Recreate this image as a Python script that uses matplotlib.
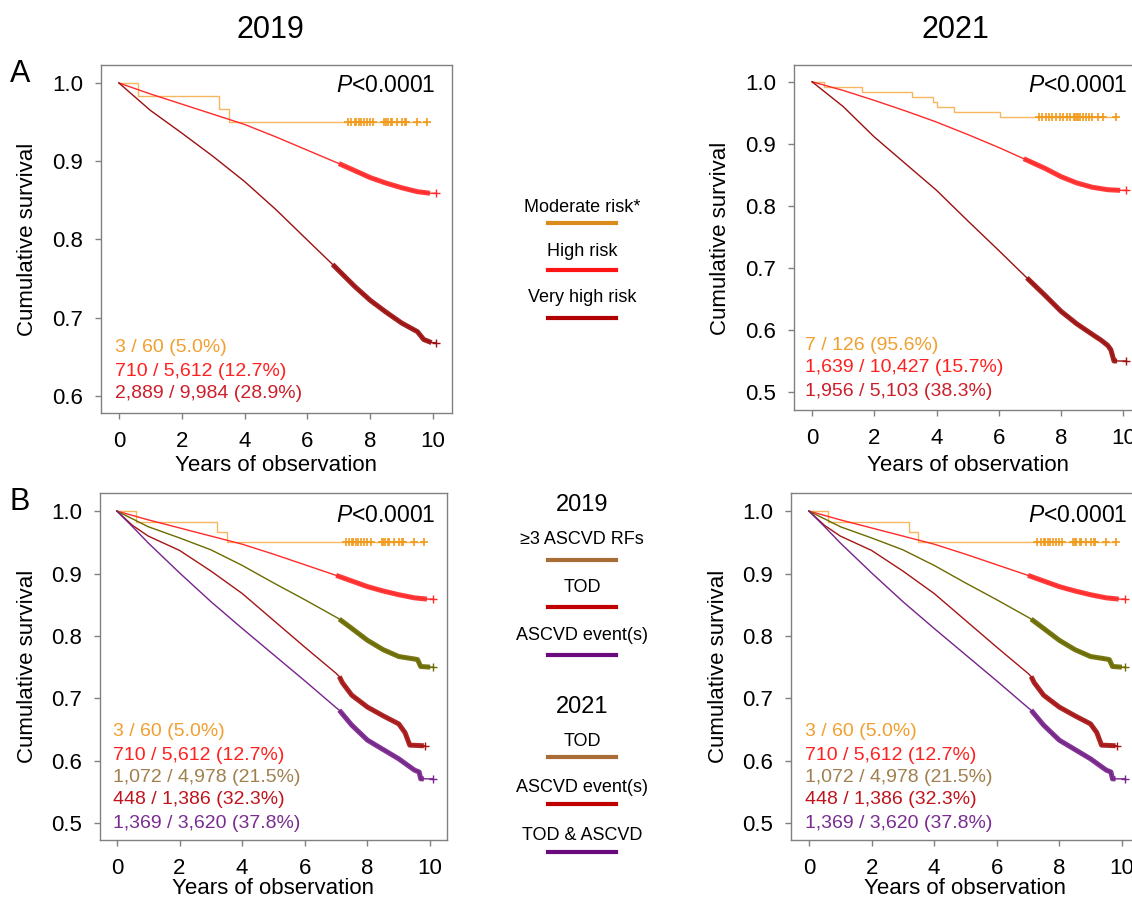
import matplotlib.pyplot as plt
from matplotlib.lines import Line2D

plt.rcParams['font.family'] = ['Liberation Sans', 'DejaVu Sans']
plt.rcParams['mathtext.fontset'] = 'custom'
plt.rcParams['mathtext.rm'] = 'Liberation Sans'
plt.rcParams['mathtext.it'] = 'Liberation Sans:italic'

W, H = 1132, 900

# ---- data ----
# 2019 risk groups (panel A left, reused for the moderate / high curves in B)
mod19_t = [0, 0.6, 3.2, 3.5, 9.8]
mod19_s = [1.0, 0.983, 0.967, 0.95, 0.95]
mod19_cens = [7.3, 7.4, 7.5, 7.55, 7.65, 7.7, 7.8, 7.9, 8.0, 8.1, 8.45, 8.5,
              8.55, 8.65, 8.7, 8.85, 9.0, 9.1, 9.15, 9.5, 9.8]

high19_t = [0, 1, 2, 3, 4, 5, 6, 7, 7.5, 8, 8.5, 9, 9.5, 9.9, 10.1]
high19_s = [1.0, 0.986, 0.973, 0.96, 0.947, 0.931, 0.914, 0.897, 0.888,
            0.879, 0.872, 0.866, 0.861, 0.859, 0.859]

vhigh19_t = [0, 1, 2, 3, 4, 5, 6, 6.8, 7.5, 8, 8.5, 9, 9.5, 9.7, 9.95, 10.1]
vhigh19_s = [1.0, 0.965, 0.936, 0.906, 0.874, 0.838, 0.799, 0.768, 0.740,
             0.722, 0.707, 0.693, 0.682, 0.672, 0.668, 0.668]

# 2021 risk groups (panel A right)
mod21_t = [0, 0.38, 1.6, 3.2, 3.9, 4.0, 4.55, 6.05, 9.8]
mod21_s = [1.0, 0.992, 0.984, 0.976, 0.968, 0.960, 0.952, 0.944, 0.944]
mod21_cens = [7.3, 7.4, 7.5, 7.6, 7.7, 7.85, 7.95, 8.05, 8.2, 8.3, 8.4, 8.45,
              8.5, 8.55, 8.6, 8.7, 8.8, 8.9, 9.0, 9.2, 9.35, 9.75]

high21_t = [0, 1, 2, 3, 4, 5, 6, 6.8, 7.5, 8, 8.5, 9, 9.5, 9.9, 10.1]
high21_s = [1.0, 0.986, 0.970, 0.953, 0.935, 0.915, 0.894, 0.876, 0.86,
            0.847, 0.837, 0.830, 0.826, 0.825, 0.825]

vhigh21_t = [0, 1, 2, 3, 4, 5, 6, 6.9, 7.5, 8, 8.5, 9, 9.3, 9.5, 9.6, 9.7, 9.8, 10.1]
vhigh21_s = [1.0, 0.960, 0.911, 0.868, 0.825, 0.776, 0.728, 0.684, 0.655,
             0.630, 0.610, 0.593, 0.583, 0.575, 0.568, 0.55, 0.55, 0.55]

# panel B subgroups
rf_t = [0, 1, 2, 3, 4, 5, 6, 7, 7.1, 7.5, 8, 8.5, 9, 9.5, 9.6, 9.7, 10.0, 10.1]
rf_s = [1.0, 0.975, 0.957, 0.938, 0.913, 0.885, 0.858, 0.83, 0.827, 0.812,
        0.793, 0.778, 0.767, 0.763, 0.762, 0.751, 0.75, 0.75]

tod_t = [0, 0.5, 1, 2, 3, 4, 5, 6, 7, 7.1, 7.2, 7.5, 8, 8.5, 9, 9.2, 9.35, 9.8, 9.85]
tod_s = [1.0, 0.977, 0.96, 0.937, 0.904, 0.868, 0.825, 0.782, 0.74, 0.735,
         0.725, 0.705, 0.686, 0.672, 0.659, 0.645, 0.625, 0.624, 0.624]

asc_t = [0, 0.5, 1, 2, 3, 4, 5, 6, 7, 7.1, 7.5, 8, 8.5, 9, 9.5, 9.65, 9.7, 9.8, 10.1]
asc_s = [1.0, 0.975, 0.949, 0.901, 0.855, 0.812, 0.77, 0.728, 0.685, 0.681,
         0.657, 0.633, 0.618, 0.603, 0.585, 0.582, 0.571, 0.571, 0.571]

labels_A19 = ["3 / 60 (5.0%)", "710 / 5,612 (12.7%)", "2,889 / 9,984 (28.9%)"]
labels_A21 = ["7 / 126 (95.6%)", "1,639 / 10,427 (15.7%)", "1,956 / 5,103 (38.3%)"]
labels_B = ["3 / 60 (5.0%)", "710 / 5,612 (12.7%)", "1,072 / 4,978 (21.5%)",
            "448 / 1,386 (32.3%)", "1,369 / 3,620 (37.8%)"]

legend_A = ["Moderate risk*", "High risk", "Very high risk"]
legend_B19 = ["\u22653 ASCVD RFs", "TOD", "ASCVD event(s)"]
legend_B21 = ["TOD", "ASCVD event(s)", "TOD & ASCVD"]

# colours
c_mod, c_mod_mark, c_mod_txt = '#f7b660', '#f29a1c', '#f0a030'
c_high, c_high_txt = '#ff2a2a', '#ff2020'
c_vhigh, c_vhigh_txt = '#9c1010', '#cc1f2a'
c_rf, c_rf_txt = '#6b6b00', '#a0804e'
c_tod, c_tod_txt = '#a51515', '#c0141c'
c_asc, c_asc_txt = '#76238a', '#7b2c90'


def fx(x):
    return x / W


def fy(y):
    return 1 - y / H


def make_axes(fig, left, top, right, bottom, xlim, ylim, yticks):
    ax = fig.add_axes([fx(left), fy(bottom), (right - left) / W, (bottom - top) / H])
    ax.set_xlim(*xlim)
    ax.set_ylim(*ylim)
    ax.set_xticks([0, 2, 4, 6, 8, 10])
    ax.set_yticks(yticks)
    ax.set_yticklabels([f"{v:.1f}" for v in yticks])
    for sp in ax.spines.values():
        sp.set_color('#808080')
        sp.set_linewidth(1.0)
    ax.tick_params(direction='out', length=4, width=1, color='#808080',
                   labelsize=16, pad=9)
    return ax


def km(ax, t, s, color, tail, lw_tail=3.6):
    # thin curve, dense censoring shown as a thick band, final '+' mark
    ax.plot(t, s, color=color, lw=1.0)
    ax.plot(t[tail:-1], s[tail:-1], color=color, lw=lw_tail,
            solid_capstyle='butt', alpha=0.92)
    ax.plot(t[-1], s[-1], marker='+', color=color, ms=6, mew=1)


def km_mod(ax, t, s, cens):
    ax.step(t, s, where='post', color=c_mod, lw=1.0)
    ax.plot(cens, [s[-1]] * len(cens), ls='none', marker='+', color=c_mod_mark,
            ms=6, mew=1.2)


fig = plt.figure(figsize=(W / 100, H / 100), dpi=100)

# ---- panel A, 2019 ----
axA1 = make_axes(fig, 101, 65, 452, 413, (-0.57, 10.6), (0.578, 1.023),
                 [0.6, 0.7, 0.8, 0.9, 1.0])
km_mod(axA1, mod19_t, mod19_s, mod19_cens)
km(axA1, high19_t, high19_s, c_high, 7)
km(axA1, vhigh19_t, vhigh19_s, c_vhigh, 7)

# ---- panel A, 2021 ----
axA2 = make_axes(fig, 794, 65, 1142, 410, (-0.58, 10.6), (0.471, 1.027),
                 [0.5, 0.6, 0.7, 0.8, 0.9, 1.0])
km_mod(axA2, mod21_t, mod21_s, mod21_cens)
km(axA2, high21_t, high21_s, c_high, 7)
km(axA2, vhigh21_t, vhigh21_s, c_vhigh, 7)

# ---- panel B, both years ----
axB1 = make_axes(fig, 100, 493, 447, 840, (-0.54, 10.54), (0.473, 1.029),
                 [0.5, 0.6, 0.7, 0.8, 0.9, 1.0])
axB2 = make_axes(fig, 791, 493, 1140, 840, (-0.575, 10.58), (0.473, 1.029),
                 [0.5, 0.6, 0.7, 0.8, 0.9, 1.0])
for ax in (axB1, axB2):
    km_mod(ax, mod19_t, mod19_s, mod19_cens)
    km(ax, high19_t, high19_s, c_high, 7)
    km(ax, rf_t, rf_s, c_rf, 8)
    km(ax, tod_t, tod_s, c_tod, 9)
    km(ax, asc_t, asc_s, c_asc, 9)

# ---- axis labels, titles, panel letters ----
for xc, y in [(276, 465), (968, 465), (273, 888), (965, 888)]:
    fig.text(fx(xc), fy(y), "Years of observation", ha='center', va='center', fontsize=16)
for x, y in [(28, 239), (720, 238), (28, 666), (718, 666)]:
    fig.text(fx(x), fy(y), "Cumulative survival", rotation=90, ha='center',
             va='center', fontsize=16)
fig.text(fx(270), fy(30), "2019", ha='center', va='center', fontsize=22)
fig.text(fx(955), fy(30), "2021", ha='center', va='center', fontsize=22)
fig.text(fx(20), fy(74), "A", ha='center', va='center', fontsize=22)
fig.text(fx(20), fy(502), "B", ha='center', va='center', fontsize=22)

for x, y in [(435, 85), (1127, 85), (435, 515), (1127, 515)]:
    fig.text(fx(x), fy(y), r"$P$<0.0001", ha='right', va='center', fontsize=16.5)

# event counts
for lab, col, y in zip(labels_A19, [c_mod_txt, c_high_txt, c_vhigh_txt], [348, 371, 393]):
    fig.text(fx(115), fy(y), lab, color=col, ha='left', va='center', fontsize=14)
for lab, col, y in zip(labels_A21, [c_mod_txt, c_high_txt, c_vhigh_txt], [345, 368, 392]):
    fig.text(fx(805), fy(y), lab, color=col, ha='left', va='center', fontsize=14)
colsB = [c_mod_txt, c_high_txt, c_rf_txt, c_tod_txt, c_asc_txt]
for x0 in (113, 805):
    for lab, col, y in zip(labels_B, colsB, [732, 755, 778, 800, 823]):
        fig.text(fx(x0), fy(y), lab, color=col, ha='left', va='center', fontsize=14)


# ---- central legends ----
def legend_item(label, y_text, y_line, color):
    fig.text(fx(582), fy(y_text), label, ha='center', va='center', fontsize=13)
    fig.add_artist(Line2D([fx(548), fx(616)], [fy(y_line), fy(y_line)],
                          color=color, lw=3, transform=fig.transFigure))


for lab, yt, yl, col in zip(legend_A, [207, 252, 298], [223, 270, 318],
                            ['#d98b1c', '#ff1414', '#b00000']):
    legend_item(lab, yt, yl, col)

fig.text(fx(582), fy(505), "2019", ha='center', va='center', fontsize=17)
for lab, yt, yl, col in zip(legend_B19, [540, 587, 635], [560, 607, 655],
                            ['#a86d35', '#c00000', '#6b0a7d']):
    legend_item(lab, yt, yl, col)
fig.text(fx(582), fy(707), "2021", ha='center', va='center', fontsize=17)
for lab, yt, yl, col in zip(legend_B21, [742, 788, 835], [757, 804, 852],
                            ['#a86d35', '#c00000', '#6b0a7d']):
    legend_item(lab, yt, yl, col)

fig.savefig("out.png", dpi=100)
